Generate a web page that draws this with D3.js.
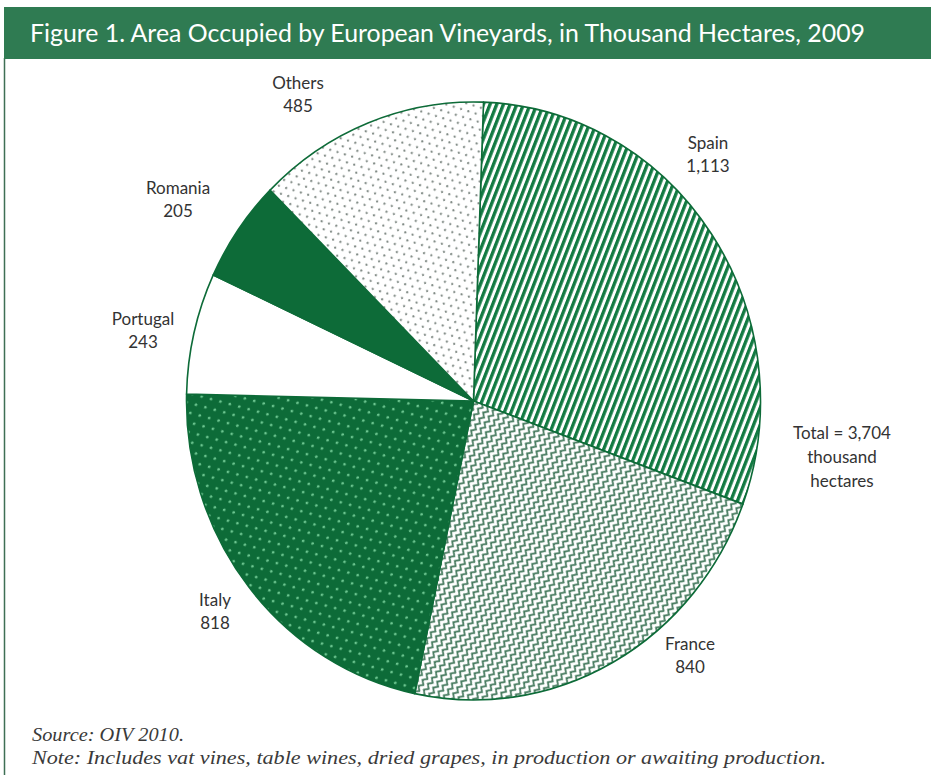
<!DOCTYPE html>
<html>
<head>
<meta charset="utf-8">
<script src="https://cdn.jsdelivr.net/npm/d3@7"></script>
<style>
  html, body { margin: 0; padding: 0; background: #ffffff; }
  svg { display: block; }
</style>
</head>
<body>
<script>
// ---- data ----
const categories = ["Spain", "France", "Italy", "Portugal", "Romania", "Others"];
const values = [1113, 840, 818, 243, 205, 485];
const valueLabels = ["1,113", "840", "818", "243", "205", "485"];
const titleText = "Figure 1. Area Occupied by European Vineyards, in Thousand Hectares, 2009";
const totalLines = ["Total = 3,704", "thousand", "hectares"];
const footerLines = ["Source: OIV 2010.", "Note: Includes vat vines, table wines, dried grapes, in production or awaiting production."];

// ---- layout (not data) ----
const W = 931, H = 775;
const cx = 473.5, cy = 401, rx = 287, ry = 299;
const startDeg = 2;
const fills = ["url(#pSpain)", "url(#pFrance)", "url(#pItaly)", "#ffffff", "#0d6b38", "url(#pOthers)"];
const labelPos = [[708, 149], [690, 650], [215, 606], [143, 325], [178, 194], [298, 89]];
const DARK = "#0d6b38";

const svg = d3.select("body").append("svg").attr("width", W).attr("height", H);
const defs = svg.append("defs");

// Spain: diagonal stripes
const ps = defs.append("pattern").attr("id", "pSpain").attr("patternUnits", "userSpaceOnUse")
  .attr("width", 6.2).attr("height", 10).attr("patternTransform", "rotate(22)");
ps.append("rect").attr("width", 6.2).attr("height", 10).attr("fill", "#ffffff");
ps.append("rect").attr("x", 0).attr("width", 3.3).attr("height", 10).attr("fill", "#127a42");

// France: zigzag lines
const pf = defs.append("pattern").attr("id", "pFrance").attr("patternUnits", "userSpaceOnUse")
  .attr("width", 7).attr("height", 6.5).attr("patternTransform", "rotate(-55)");
pf.append("rect").attr("width", 7).attr("height", 6.5).attr("fill", "#ffffff");
pf.append("path").attr("d", "M-3.5,1.2 L0,4.8 L3.5,1.2 L7,4.8 L10.5,1.2")
  .attr("fill", "none").attr("stroke", "#4a7d62").attr("stroke-width", 1.7);

// Italy: dark green with light dots
const pi = defs.append("pattern").attr("id", "pItaly").attr("patternUnits", "userSpaceOnUse")
  .attr("width", 16).attr("height", 11).attr("patternTransform", "rotate(-20)");
pi.append("rect").attr("width", 16).attr("height", 11).attr("fill", DARK);
pi.append("circle").attr("cx", 2).attr("cy", 2).attr("r", 1.3).attr("fill", "#6cc690");
pi.append("circle").attr("cx", 10).attr("cy", 7.5).attr("r", 1.3).attr("fill", "#6cc690");

// Others: white with gray dots
const po = defs.append("pattern").attr("id", "pOthers").attr("patternUnits", "userSpaceOnUse")
  .attr("width", 13).attr("height", 8).attr("patternTransform", "rotate(-15)");
po.append("rect").attr("width", 13).attr("height", 8).attr("fill", "#ffffff");
po.append("circle").attr("cx", 2).attr("cy", 2).attr("r", 1.1).attr("fill", "#808a85");
po.append("circle").attr("cx", 8.5).attr("cy", 6).attr("r", 1.1).attr("fill", "#808a85");

// frame
svg.append("line").attr("x1", 4.5).attr("x2", 4.5).attr("y1", 58).attr("y2", H)
  .attr("stroke", "#3e6f55").attr("stroke-width", 1.5);
svg.append("rect").attr("x", 4).attr("y", 7).attr("width", W - 4).attr("height", 52).attr("fill", "#2f7b52");
svg.append("text").attr("x", 30).attr("y", 42).attr("fill", "#ffffff")
  .attr("font-family", "Lato, 'Open Sans', sans-serif").attr("font-size", 25)
  .attr("textLength", 835).attr("lengthAdjust", "spacingAndGlyphs")
  .text(titleText);

// pie
const pie = d3.pie().sort(null)
  .startAngle(startDeg * Math.PI / 180)
  .endAngle(startDeg * Math.PI / 180 + 2 * Math.PI);
const arcs = pie(values);
const arc = d3.arc().innerRadius(0).outerRadius(rx);
const g = svg.append("g").attr("transform", `translate(${cx},${cy}) scale(1,${ry / rx})`);
g.selectAll("path.slice").data(arcs).join("path").attr("class", "slice")
  .attr("d", arc)
  .attr("fill", (d, i) => fills[i])
  .attr("stroke", DARK).attr("stroke-width", 1.6).attr("stroke-linejoin", "round");

// labels
const lab = svg.append("g").attr("font-family", "Lato, 'Open Sans', sans-serif")
  .attr("font-size", 17).attr("fill", "#333333").attr("text-anchor", "middle");
categories.forEach((c, i) => {
  const t = lab.append("text").attr("x", labelPos[i][0]).attr("y", labelPos[i][1]);
  t.append("tspan").attr("x", labelPos[i][0]).text(c);
  t.append("tspan").attr("x", labelPos[i][0]).attr("dy", 23).text(valueLabels[i]);
});
const tot = lab.append("text").attr("x", 842).attr("y", 439);
totalLines.forEach((s, i) => tot.append("tspan").attr("x", 842).attr("dy", i === 0 ? 0 : 24).text(s));

// footer
const ft = svg.append("g").attr("font-family", "'Liberation Serif', 'DejaVu Serif', serif")
  .attr("font-style", "italic").attr("font-size", 18).attr("fill", "#3a3a3a");
ft.append("text").attr("x", 32).attr("y", 741).attr("textLength", 152).attr("lengthAdjust", "spacingAndGlyphs").text(footerLines[0]);
ft.append("text").attr("x", 32).attr("y", 764).attr("textLength", 794).attr("lengthAdjust", "spacingAndGlyphs").text(footerLines[1]);
</script>
</body>
</html>
